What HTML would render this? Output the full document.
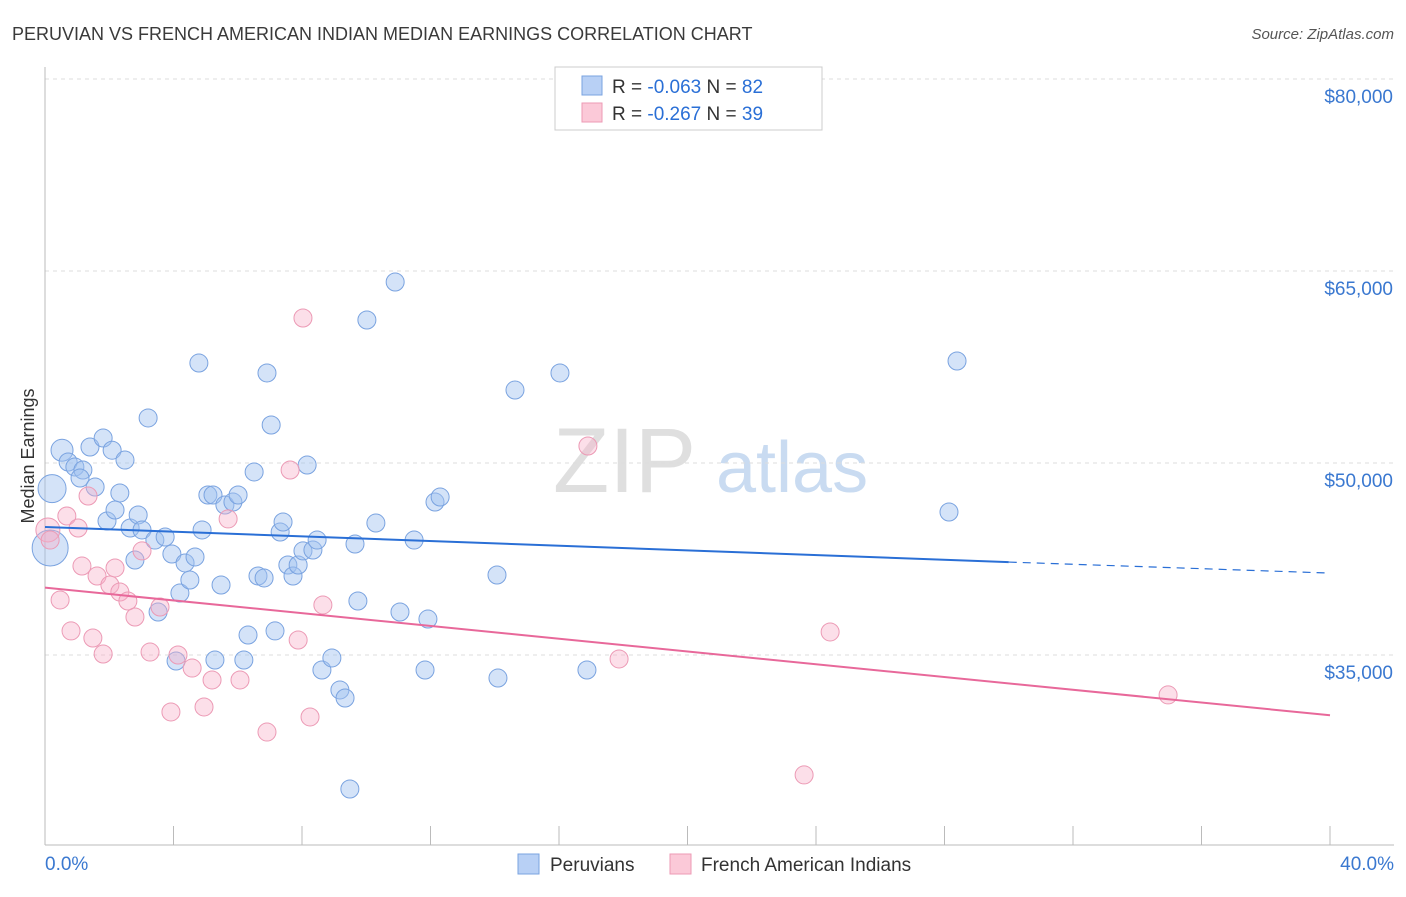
<!DOCTYPE html>
<html><head><meta charset="utf-8">
<style>
body{margin:0;background:#fff;font-family:"Liberation Sans",sans-serif;}
svg text{font-family:"Liberation Sans",sans-serif;}
</style></head>
<body>
<svg id="chart" width="1406" height="892" viewBox="0 0 1406 892" xmlns="http://www.w3.org/2000/svg">
<text x="12" y="40" font-size="18" fill="#3a3a3a">PERUVIAN VS FRENCH AMERICAN INDIAN MEDIAN EARNINGS CORRELATION CHART</text>
<text x="1394" y="39" font-size="15" fill="#555" text-anchor="end" font-style="italic">Source: ZipAtlas.com</text>
<g>
<text x="553" y="492" font-size="92" fill="#d8d8d8" font-family="Liberation Serif" opacity="0.8">ZIP</text>
<text x="716" y="492" font-size="72" fill="#bcd3ee" opacity="0.8">atlas</text>
</g>
<g id="grid"></g>
<g id="axes"></g>
<text transform="translate(34,456) rotate(-90)" font-size="18" fill="#333" text-anchor="middle">Median Earnings</text>
<g id="points"></g>
<g id="trend"></g>
<g>
<rect x="555" y="67" width="267" height="63" fill="#fff" stroke="#ccc"/>
<rect x="582" y="76" width="20" height="19" fill="#b8d0f5" stroke="#7aa3e0"/>
<rect x="582" y="103" width="20" height="19" fill="#fbc9d8" stroke="#ec9ab5"/>
<text x="612" y="93" font-size="19" fill="#333">R = <tspan fill="#2a6fd6">-0.063</tspan>   N = <tspan fill="#2a6fd6">82</tspan></text>
<text x="612" y="120" font-size="19" fill="#333">R =  <tspan fill="#2a6fd6">-0.267</tspan>   N = <tspan fill="#2a6fd6">39</tspan></text>
</g>
<g>
<rect x="518" y="854" width="21" height="20" fill="#b8d0f5" stroke="#7aa3e0"/>
<text x="550" y="871" font-size="19" fill="#333">Peruvians</text>
<rect x="670" y="854" width="21" height="20" fill="#fbc9d8" stroke="#ec9ab5"/>
<text x="701" y="871" font-size="19" fill="#333">French American Indians</text>
</g>
</svg>
<script>
const yTicks=[35000,50000,65000,80000];
const yTickLabels=["$35,000","$50,000","$65,000","$80,000"];
const xTickLabels=["0.0%","40.0%"];
const blueX=[0.22,0.16,0.53,0.72,0.93,1.18,1.09,1.40,1.56,1.81,2.09,2.33,2.49,1.93,2.18,2.65,2.90,2.80,3.21,3.02,3.42,3.74,3.95,4.20,4.36,4.51,4.67,3.52,4.08,4.79,4.89,5.07,5.23,5.48,5.60,5.85,6.01,5.29,6.19,6.32,6.51,6.63,6.82,6.91,7.04,7.16,7.32,7.41,7.56,7.72,7.88,8.03,8.16,8.34,8.47,8.62,8.93,9.18,9.34,9.49,9.65,9.74,10.02,10.30,10.90,11.05,11.49,11.83,11.92,12.14,12.30,14.07,14.10,14.63,16.03,16.87,28.14,28.39];
const blueY=[48000,43360,51000,50080,49690,49450,48830,51250,48125,51950,51000,47660,50230,45470,46330,44920,45940,42420,53520,44770,43980,44220,42890,39840,42190,40860,42660,38360,34530,57810,44770,47500,47500,40470,46720,46950,47500,34610,34610,36560,49300,41170,41020,57030,52970,36880,44610,45390,42030,41170,42030,43130,49840,43200,43980,33830,34770,32270,31640,24530,43670,39220,61170,45310,64140,38360,43980,33830,37810,46950,47340,41250,33200,55700,57030,33830,46170,57970];
const blueR=[14,18,11,9,9,9,9,9,9,9,9,9,9,9,9,9,9,9,9,9,9,9,9,9,9,9,9,9,9,9,9,9,9,9,9,9,9,9,9,9,9,9,9,9,9,9,9,9,9,9,9,9,9,9,9,9,9,9,9,9,9,9,9,9,9,9,9,9,9,9,9,9,9,9,9,9,9,9];
const pinkX=[0.09,0.16,0.47,0.68,0.81,1.03,1.15,1.34,1.49,1.62,1.81,2.02,2.18,2.33,2.58,2.80,3.02,3.27,3.58,3.92,4.14,4.58,4.95,5.20,5.70,6.07,6.91,7.63,7.88,8.03,8.25,8.65,16.90,17.87,23.63,24.44,34.96];
const pinkY=[44770,43980,39300,45860,36880,44920,41950,47420,36330,41170,35080,40470,41800,39920,39220,37970,43130,35230,38750,30550,35000,33980,30940,33050,45630,33050,28980,49450,36170,61330,30160,38910,51330,34690,25630,36800,31880];
const pinkR=[12,9,9,9,9,9,9,9,9,9,9,9,9,9,9,9,9,9,9,9,9,9,9,9,9,9,9,9,9,9,9,9,9,9,9,9,9];
const blueTrend=[45000,42260,41400];
const pinkTrend=[40260,30290];

const NS="http://www.w3.org/2000/svg";
const X0=45,X1=1330,YB=845;
function xs(v){return X0+(v/40)*(X1-X0);}
function ys(v){return 79+(80000-v)/15000*192;}
function mk(tag,attrs,parent){const e=document.createElementNS(NS,tag);for(const k in attrs)e.setAttribute(k,attrs[k]);parent.appendChild(e);return e;}
const grid=document.getElementById('grid'),axes=document.getElementById('axes'),pts=document.getElementById('points'),tr=document.getElementById('trend');
yTicks.forEach((t,i)=>{
 const l=mk('line',{x1:X0,x2:1394,y1:ys(t),y2:ys(t),stroke:'#ddd','stroke-dasharray':'4,4'},grid);
 
 
 const tx=mk('text',{x:1393,y:ys(t)+24,'font-size':19,fill:'#3a78d0','text-anchor':'end'},axes);
 tx.textContent=yTickLabels[i];
 
 
});
const ya=mk('line',{x1:X0,x2:X0,y1:67,y2:YB,stroke:'#bbb'},axes);


const xa=mk('line',{x1:X0,x2:1394,y1:YB,y2:YB,stroke:'#bbb'},axes);


for(let i=0;i<=10;i++){
 const tk=mk('line',{x1:xs(i*4),x2:xs(i*4),y1:826,y2:YB,stroke:'#bbb'},axes);
 
 
}
[[0,'start',45],[40,'end',1394]].forEach((a,i)=>{
 const tx=mk('text',{x:a[2],y:870,'font-size':19,fill:'#3a78d0','text-anchor':a[1]},axes);
 tx.textContent=xTickLabels[i];
 
 
});
blueX.forEach((x,i)=>{
 const c=mk('circle',{cx:xs(x),cy:ys(blueY[i]),r:blueR[i],fill:'rgba(160,192,240,0.45)',stroke:'#7aa3e0','stroke-width':1},pts);
 
 
});
pinkX.forEach((x,i)=>{
 const c=mk('circle',{cx:xs(x),cy:ys(pinkY[i]),r:pinkR[i],fill:'rgba(247,175,200,0.4)',stroke:'#ec9ab5','stroke-width':1},pts);
 
 
});
const b1=mk('line',{x1:xs(0),y1:ys(blueTrend[0]),x2:xs(30),y2:ys(blueTrend[1]),stroke:'#2a6fd6','stroke-width':2},tr);


const b2=mk('line',{x1:xs(30),y1:ys(blueTrend[1]),x2:xs(40),y2:ys(blueTrend[2]),stroke:'#2a6fd6','stroke-width':1.2,'stroke-dasharray':'8,6'},tr);


const p1=mk('line',{x1:xs(0),y1:ys(pinkTrend[0]),x2:xs(40),y2:ys(pinkTrend[1]),stroke:'#e8689a','stroke-width':2},tr);


</script>
</body></html>
